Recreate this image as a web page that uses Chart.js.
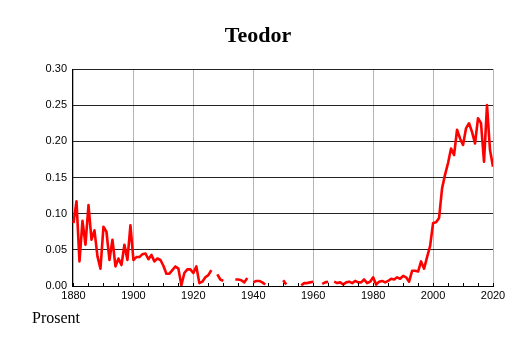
<!DOCTYPE html>
<html>
<head>
<meta charset="utf-8">
<script src="https://cdn.jsdelivr.net/npm/chart.js@4"></script>
<style>
  html, body { margin: 0; padding: 0; background: #fff; }
  #wrap { width: 514px; height: 343px; position: relative; }
</style>
</head>
<body>
<div id="wrap"><canvas id="nameChart"></canvas></div>
<script>
const chartTitle = 'Teodor';
const yLabel = 'Prosent';

// one value per year from 1880, null where the name is missing
const firstYear = 1880;
const shares = [
  0.087, 0.117, 0.034, 0.090, 0.057, 0.112, 0.064, 0.077, 0.041, 0.024, // 1880
  0.082, 0.075, 0.036, 0.064, 0.027, 0.038, 0.029, 0.057, 0.036, 0.084, // 1890
  0.036, 0.040, 0.040, 0.044, 0.045, 0.037, 0.043, 0.034, 0.038, 0.036, // 1900
  0.028, 0.017, 0.017, 0.022, 0.027, 0.024, 0.001, 0.018, 0.023, 0.023, // 1910
  0.018, 0.027, 0.004, 0.006, 0.012, 0.015, 0.022, null,  0.016, 0.009, // 1920
  0.007, null,  null,  null,  0.009, 0.009, 0.008, 0.005, 0.011, null,  // 1930
  0.005, 0.007, 0.007, 0.005, 0.002, null,  null,  null,  null,  null,  // 1940
  0.008, 0.002, null,  null,  null,  null,  0.001, 0.004, 0.004, 0.005, // 1950
  0.006, null,  null,  0.003, 0.005, 0.006, null,  0.006, 0.004, 0.005, // 1960
  0.002, 0.005, 0.006, 0.004, 0.007, 0.005, 0.005, 0.009, 0.004, 0.006, // 1970
  0.012, 0.002, 0.006, 0.007, 0.005, 0.007, 0.010, 0.009, 0.012, 0.010, // 1980
  0.014, 0.012, 0.006, 0.021, 0.021, 0.020, 0.034, 0.024, 0.040, 0.055, // 1990
  0.087, 0.088, 0.094, 0.135, 0.154, 0.170, 0.190, 0.181, 0.216, 0.204, // 2000
  0.195, 0.218, 0.225, 0.213, 0.197, 0.232, 0.225, 0.172, 0.250, 0.188, // 2010
  0.165                                                                 // 2020
];
const years = shares.map((v, i) => firstYear + i);

const xTicks = [1880, 1900, 1920, 1940, 1960, 1980, 2000, 2020];
const xMinorTicks = [1885, 1890, 1895, 1905, 1910, 1915, 1925, 1930, 1935, 1945, 1950, 1955,
                     1965, 1970, 1975, 1985, 1990, 1995, 2005, 2010, 2015];
const yTicks = [0, 0.05, 0.10, 0.15, 0.20, 0.25, 0.30];

// title, y label and the small inner ticks on the x axis
const extras = {
  id: 'extras',
  afterDraw(chart) {
    const c = chart.ctx;
    const x = chart.scales.x;
    const bottom = chart.chartArea.bottom;
    c.save();
    c.strokeStyle = '#000';
    c.lineWidth = 1;
    xMinorTicks.concat(xTicks).forEach(v => {
      const px = Math.round(x.getPixelForValue(v)) + 0.5;
      c.beginPath();
      c.moveTo(px, bottom);
      c.lineTo(px, bottom - 3);
      c.stroke();
    });
    c.fillStyle = '#000';
    c.textAlign = 'center';
    c.textBaseline = 'alphabetic';
    c.font = 'bold 22px "Liberation Serif"';
    c.fillText(chartTitle, 258, 42);
    c.textAlign = 'left';
    c.font = '16px "Liberation Serif"';
    c.fillText(yLabel, 32, 323);
    c.restore();
  }
};

const ctx = document.getElementById('nameChart').getContext('2d');

const nameChart = new Chart(ctx, {
  type: 'line',
  data: {
    datasets: [{
      data: years.map((y, i) => ({ x: y, y: shares[i] })),
      borderColor: '#ff0000',
      borderWidth: 2.6,
      borderJoinStyle: 'round',
      pointRadius: 0,
      tension: 0,
      spanGaps: false
    }]
  },
  options: {
    responsive: true,
    maintainAspectRatio: false,
    animation: false,
    layout: { padding: { top: 69, right: 21, left: 0, bottom: 0 } },
    plugins: {
      legend: { display: false },
      title: { display: false },
      tooltip: { enabled: false }
    },
    scales: {
      x: {
        type: 'linear',
        min: 1879.5,
        max: 2020,
        afterBuildTicks: s => { s.ticks = xTicks.map(v => ({ value: v })); },
        afterFit: s => { s.height = 57; },
        ticks: {
          color: '#000',
          font: { family: 'Liberation Sans', size: 11 },
          padding: 3,
          maxRotation: 0,
          autoSkip: false,
          callback: v => String(v)
        },
        grid: { color: '#b4b4b4', lineWidth: 1, drawTicks: false },
        border: { color: '#000', width: 1 }
      },
      y: {
        min: 0,
        max: 0.30,
        afterBuildTicks: s => { s.ticks = yTicks.map(v => ({ value: v })); },
        afterFit: s => { s.width = 72; },
        ticks: {
          color: '#000',
          font: { family: 'Liberation Sans', size: 11 },
          padding: 5,
          callback: v => v.toFixed(2)
        },
        grid: { color: '#222', lineWidth: 1, drawTicks: false },
        border: { color: '#000', width: 1 }
      }
    }
  },
  plugins: [extras]
});
</script>
</body>
</html>
